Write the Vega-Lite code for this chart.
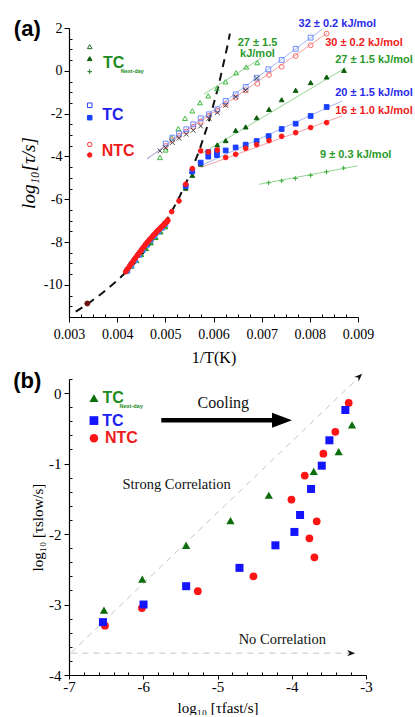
{
"$schema": "https://vega.github.io/schema/vega-lite/v6.json",
"padding": {"left": 13, "top": 17, "right": 0, "bottom": 0},
"bounds": "flush",
"spacing": 62,
"config": {
  "view": {"stroke": null},
  "axis": {"grid": false, "domainColor": "#000000", "domainWidth": 1.2, "tickColor": "#000000", "tickWidth": 1, "labelFont": "Liberation Serif", "labelColor": "#000000", "labelFontSize": 14, "titleFont": "Liberation Serif", "titleColor": "#000000", "titleFontWeight": "normal", "labelOverlap": false, "labelFlush": false}
},
"resolve": {"scale": {"shape": "independent", "size": "independent", "fill": "independent", "stroke": "independent", "color": "independent"}},
"datasets": {
  "a_fits": [
    {"x":0.0058,"y":-1.09,"g":"ot"},{"x":0.00701,"y":0.62,"g":"ot"},
    {"x":0.00462,"y":-4.10,"g":"oc"},{"x":0.00836,"y":1.76,"g":"oc"},
    {"x":0.00462,"y":-4.13,"g":"os"},{"x":0.00826,"y":1.95,"g":"os"},
    {"x":0.00577,"y":-3.85,"g":"ft"},{"x":0.00875,"y":0.15,"g":"ft"},
    {"x":0.00573,"y":-4.44,"g":"fs"},{"x":0.00867,"y":-1.41,"g":"fs"},
    {"x":0.00573,"y":-4.52,"g":"fc"},{"x":0.00867,"y":-2.11,"g":"fc"},
    {"x":0.00695,"y":-5.30,"g":"pl"},{"x":0.00899,"y":-4.44,"g":"pl"}
  ],
  "a_vft": [
    {"x":0.00314,"y":-11.25},{"x":0.0034,"y":-10.87},{"x":0.0037,"y":-10.37},{"x":0.004,"y":-9.8},{"x":0.0043,"y":-9.14},{"x":0.0046,"y":-8.36},{"x":0.0049,"y":-7.43},{"x":0.0051,"y":-6.7},{"x":0.0053,"y":-5.86},{"x":0.0055,"y":-4.89},{"x":0.0057,"y":-3.75},{"x":0.0059,"y":-2.4},{"x":0.0061,"y":-0.75},{"x":0.0063,"y":1.27},{"x":0.00634,"y":1.74}
  ],
  "a_pts": [
    {"x":0.0043,"y":-9.12,"s":"gb"},{"x":0.0044,"y":-8.86,"s":"gb"},{"x":0.0045,"y":-8.58,"s":"gb"},{"x":0.0046,"y":-8.3,"s":"gb"},{"x":0.0047,"y":-8.03,"s":"gb"},{"x":0.0048,"y":-7.78,"s":"gb"},{"x":0.0049,"y":-7.52,"s":"gb"},{"x":0.005,"y":-7.28,"s":"gb"},
    {"x":0.00421,"y":-9.34,"s":"tb"},{"x":0.00429,"y":-9.08,"s":"tb"},{"x":0.00437,"y":-8.84,"s":"tb"},{"x":0.00445,"y":-8.6,"s":"tb"},{"x":0.00453,"y":-8.36,"s":"tb"},{"x":0.00461,"y":-8.13,"s":"tb"},{"x":0.00469,"y":-7.91,"s":"tb"},{"x":0.00477,"y":-7.71,"s":"tb"},{"x":0.00485,"y":-7.51,"s":"tb"},{"x":0.00493,"y":-7.33,"s":"tb"},{"x":0.005,"y":-7.15,"s":"tb"},
    {"x":0.00418,"y":-9.38,"s":"nb"},{"x":0.00422,"y":-9.25,"s":"nb"},{"x":0.00426,"y":-9.12,"s":"nb"},{"x":0.0043,"y":-8.99,"s":"nb"},{"x":0.00434,"y":-8.86,"s":"nb"},{"x":0.00438,"y":-8.74,"s":"nb"},{"x":0.00442,"y":-8.62,"s":"nb"},{"x":0.00446,"y":-8.5,"s":"nb"},{"x":0.0045,"y":-8.38,"s":"nb"},{"x":0.00454,"y":-8.26,"s":"nb"},{"x":0.00458,"y":-8.14,"s":"nb"},{"x":0.00462,"y":-8.03,"s":"nb"},{"x":0.00466,"y":-7.92,"s":"nb"},{"x":0.0047,"y":-7.82,"s":"nb"},{"x":0.00474,"y":-7.72,"s":"nb"},{"x":0.00478,"y":-7.62,"s":"nb"},{"x":0.00482,"y":-7.52,"s":"nb"},{"x":0.00486,"y":-7.43,"s":"nb"},{"x":0.0049,"y":-7.34,"s":"nb"},{"x":0.00494,"y":-7.25,"s":"nb"},{"x":0.00498,"y":-7.16,"s":"nb"},{"x":0.00502,"y":-7.07,"s":"nb"},{"x":0.00505,"y":-6.98,"s":"nb"},
    {"x":0.00338,"y":-10.87,"s":"ref"},
    {"x":0.004889,"y":-4.05,"s":"ot"},{"x":0.005007,"y":-3.7,"s":"ot"},{"x":0.005132,"y":-3.12,"s":"ot"},{"x":0.005269,"y":-2.7,"s":"ot"},{"x":0.005408,"y":-2.22,"s":"ot"},{"x":0.00556,"y":-1.87,"s":"ot"},{"x":0.00572,"y":-1.49,"s":"ot"},{"x":0.00589,"y":-1.17,"s":"ot"},{"x":0.00607,"y":-0.83,"s":"ot"},{"x":0.00625,"y":-0.51,"s":"ot"},{"x":0.00647,"y":-0.09,"s":"ot"},{"x":0.00668,"y":0.18,"s":"ot"},{"x":0.00691,"y":0.38,"s":"ot"},
    {"x":0.005007,"y":-3.51,"s":"oc"},{"x":0.005145,"y":-3.24,"s":"oc"},{"x":0.005284,"y":-3.04,"s":"oc"},{"x":0.005435,"y":-2.84,"s":"oc"},{"x":0.00558,"y":-2.62,"s":"oc"},{"x":0.005734,"y":-2.37,"s":"oc"},{"x":0.005906,"y":-2.11,"s":"oc"},{"x":0.006079,"y":-1.87,"s":"oc"},{"x":0.006253,"y":-1.56,"s":"oc"},{"x":0.00646,"y":-1.25,"s":"oc"},{"x":0.006668,"y":-0.91,"s":"oc"},{"x":0.00691,"y":-0.6,"s":"oc"},{"x":0.007152,"y":-0.19,"s":"oc"},{"x":0.007415,"y":0.19,"s":"oc"},{"x":0.007706,"y":0.69,"s":"oc"},{"x":0.008017,"y":1.19,"s":"oc"},{"x":0.008349,"y":1.74,"s":"oc"},
    {"x":0.005007,"y":-3.4,"s":"os"},{"x":0.005145,"y":-3.12,"s":"os"},{"x":0.005284,"y":-2.93,"s":"os"},{"x":0.005435,"y":-2.73,"s":"os"},{"x":0.00558,"y":-2.5,"s":"os"},{"x":0.005734,"y":-2.22,"s":"os"},{"x":0.005906,"y":-2.03,"s":"os"},{"x":0.006079,"y":-1.8,"s":"os"},{"x":0.006253,"y":-1.41,"s":"os"},{"x":0.00646,"y":-1.1,"s":"os"},{"x":0.006668,"y":-0.75,"s":"os"},{"x":0.006896,"y":-0.32,"s":"os"},{"x":0.007138,"y":0.07,"s":"os"},{"x":0.007415,"y":0.51,"s":"os"},{"x":0.007706,"y":1.03,"s":"os"},{"x":0.008017,"y":1.55,"s":"os"},
    {"x":0.004889,"y":-3.74,"s":"xx"},{"x":0.005007,"y":-3.59,"s":"xx"},{"x":0.005145,"y":-3.35,"s":"xx"},{"x":0.005284,"y":-3.15,"s":"xx"},{"x":0.005435,"y":-2.96,"s":"xx"},{"x":0.00558,"y":-2.78,"s":"xx"},{"x":0.005734,"y":-2.58,"s":"xx"},{"x":0.005906,"y":-2.22,"s":"xx"},{"x":0.006079,"y":-1.95,"s":"xx"},{"x":0.006253,"y":-1.61,"s":"xx"},{"x":0.00646,"y":-1.22,"s":"xx"},{"x":0.006668,"y":-0.91,"s":"xx"},{"x":0.006896,"y":-0.35,"s":"xx"},
    {"x":0.005423,"y":-5.48,"s":"ft"},{"x":0.00556,"y":-4.88,"s":"ft"},{"x":0.005734,"y":-4.36,"s":"ft"},{"x":0.006079,"y":-3.46,"s":"ft"},{"x":0.006253,"y":-3.26,"s":"ft"},{"x":0.00646,"y":-2.78,"s":"ft"},{"x":0.006668,"y":-2.62,"s":"ft"},{"x":0.006896,"y":-2.19,"s":"ft"},{"x":0.007152,"y":-1.8,"s":"ft"},{"x":0.007415,"y":-1.35,"s":"ft"},{"x":0.007706,"y":-0.91,"s":"ft"},{"x":0.008017,"y":-0.55,"s":"ft"},{"x":0.008349,"y":-0.29,"s":"ft"},{"x":0.008709,"y":0.02,"s":"ft"},
    {"x":0.005423,"y":-5.38,"s":"fs"},{"x":0.00556,"y":-4.7,"s":"fs"},{"x":0.005734,"y":-4.29,"s":"fs"},{"x":0.005892,"y":-4.01,"s":"fs"},{"x":0.005892,"y":-3.8,"s":"fs"},{"x":0.006072,"y":-3.94,"s":"fs"},{"x":0.006072,"y":-3.75,"s":"fs"},{"x":0.006253,"y":-3.72,"s":"fs"},{"x":0.00646,"y":-3.58,"s":"fs"},{"x":0.006668,"y":-3.45,"s":"fs"},{"x":0.006896,"y":-3.28,"s":"fs"},{"x":0.007145,"y":-3.05,"s":"fs"},{"x":0.007415,"y":-2.72,"s":"fs"},{"x":0.007706,"y":-2.47,"s":"fs"},{"x":0.008017,"y":-2.11,"s":"fs"},{"x":0.008349,"y":-1.69,"s":"fs"},
    {"x":0.005041,"y":-7.04,"s":"fc"},{"x":0.005132,"y":-6.58,"s":"fc"},{"x":0.005284,"y":-6.08,"s":"fc"},{"x":0.005423,"y":-5.3,"s":"fc"},{"x":0.00556,"y":-4.57,"s":"fc"},{"x":0.005734,"y":-3.74,"s":"fc"},{"x":0.005892,"y":-3.79,"s":"fc"},{"x":0.006079,"y":-3.7,"s":"fc"},{"x":0.006253,"y":-4.05,"s":"fc"},{"x":0.00646,"y":-3.9,"s":"fc"},{"x":0.006668,"y":-3.62,"s":"fc"},{"x":0.006896,"y":-3.45,"s":"fc"},{"x":0.007152,"y":-3.26,"s":"fc"},{"x":0.007415,"y":-3.06,"s":"fc"},{"x":0.007706,"y":-2.89,"s":"fc"},{"x":0.008017,"y":-2.65,"s":"fc"},{"x":0.008349,"y":-2.42,"s":"fc"},
    {"x":0.007145,"y":-5.23,"s":"pl"},{"x":0.007415,"y":-5.14,"s":"pl"},{"x":0.007699,"y":-5.03,"s":"pl"},{"x":0.008017,"y":-4.88,"s":"pl"},{"x":0.008345,"y":-4.72,"s":"pl"},{"x":0.0087,"y":-4.54,"s":"pl"},
    {"x":0.00343,"y":1.13,"s":"Lot"},{"x":0.00343,"y":0.57,"s":"Lft"},{"x":0.00343,"y":-0.04,"s":"Lpl"},{"x":0.00343,"y":-1.61,"s":"Los"},{"x":0.00343,"y":-2.19,"s":"Lfs"},{"x":0.00343,"y":-3.44,"s":"Loc"},{"x":0.00343,"y":-3.93,"s":"Lfc"}
  ],
  "a_lbl": [
    {"x":0.008571,"y":2.2,"t":"32 ± 0.2 kJ/mol","k":"b"},
    {"x":0.009124,"y":1.28,"t":"30 ± 0.2 kJ/mol","k":"r"},
    {"x":0.009332,"y":0.49,"t":"27 ± 1.5 kJ/mol","k":"g"},
    {"x":0.009332,"y":-1.02,"t":"20 ± 1.5 kJ/mol","k":"b"},
    {"x":0.009332,"y":-1.87,"t":"16 ± 1.0 kJ/mol","k":"r"},
    {"x":0.008952,"y":-3.93,"t":"9 ± 0.3 kJ/mol","k":"g"},
    {"x":0.006913,"y":1.29,"t":"27 ± 1.5\nkJ/mol","k":"g"}
  ],
  "a_leg": [
    {"x":0.003706,"y":0.38,"t":"TC","k":"g"},
    {"x":0.003692,"y":-2.06,"t":"TC","k":"b"},
    {"x":0.00368,"y":-3.73,"t":"NTC","k":"r"}
  ],
  "a_sub": [{"x":0.004073,"y":-0.02,"t":"Next-day"}],
  "a_tag": [{"x":0.002134,"y":1.95,"t":"(a)"}],
  "b_rules": [
    {"x":-6.969,"y":-3.68,"x2":-3.12,"y2":0.2},
    {"x":-6.969,"y":-3.69,"x2":-3.23,"y2":-3.69}
  ],
  "b_heads": [
    {"x":-3.09,"y":0.236,"k":"d"},
    {"x":-3.2,"y":-3.69,"k":"h"}
  ],
  "b_arrow": [
    {"x":-5.757,"x2":-4.239,"y":-0.387,"p":"shaft"},
    {"x":-4.131,"y":-0.387,"p":"head"}
  ],
  "b_pts": [
    {"x":-6.516,"y":-3.3,"s":"NTC"},{"x":-6.018,"y":-3.05,"s":"NTC"},{"x":-5.265,"y":-2.81,"s":"NTC"},{"x":-4.516,"y":-2.6,"s":"NTC"},{"x":-4.004,"y":-1.51,"s":"NTC"},{"x":-3.825,"y":-1.17,"s":"NTC"},{"x":-3.762,"y":-2.06,"s":"NTC"},{"x":-3.664,"y":-1.82,"s":"NTC"},{"x":-3.695,"y":-2.33,"s":"NTC"},{"x":-3.574,"y":-0.86,"s":"NTC"},{"x":-3.413,"y":-0.55,"s":"NTC"},{"x":-3.233,"y":-0.14,"s":"NTC"},
    {"x":-6.543,"y":-3.25,"s":"TC"},{"x":-5.996,"y":-3.0,"s":"TC"},{"x":-5.422,"y":-2.74,"s":"TC"},{"x":-4.704,"y":-2.48,"s":"TC"},{"x":-4.22,"y":-2.16,"s":"TC"},{"x":-3.964,"y":-1.97,"s":"TC"},{"x":-3.888,"y":-1.73,"s":"TC"},{"x":-3.74,"y":-1.36,"s":"TC"},{"x":-3.596,"y":-1.03,"s":"TC"},{"x":-3.493,"y":-0.67,"s":"TC"},{"x":-3.278,"y":-0.24,"s":"TC"},
    {"x":-6.529,"y":-3.08,"s":"TCnd"},{"x":-6.013,"y":-2.64,"s":"TCnd"},{"x":-5.422,"y":-2.16,"s":"TCnd"},{"x":-4.825,"y":-1.81,"s":"TCnd"},{"x":-4.309,"y":-1.45,"s":"TCnd"},{"x":-3.704,"y":-1.11,"s":"TCnd"},{"x":-3.368,"y":-0.83,"s":"TCnd"},{"x":-3.188,"y":-0.45,"s":"TCnd"},
    {"x":-6.664,"y":-0.07,"s":"LTCnd"},{"x":-6.664,"y":-0.39,"s":"LTC"},{"x":-6.664,"y":-0.64,"s":"LNTC"}
  ],
  "b_txt": [
    {"x":-4.922,"y":-0.14,"t":"Cooling"},
    {"x":-5.55,"y":-1.3,"t":"Strong Correlation"},
    {"x":-4.127,"y":-3.51,"t":"No Correlation"}
  ],
  "b_leg": [
    {"x":-6.55,"y":-0.07,"t":"TC","k":"g"},
    {"x":-6.551,"y":-0.39,"t":"TC","k":"b"},
    {"x":-6.515,"y":-0.64,"t":"NTC","k":"r"}
  ],
  "b_sub": [{"x":-6.32,"y":-0.19,"t":"Next-day"}],
  "b_tag": [{"x":-7.563,"y":0.17,"t":"(b)"}]
},
"vconcat": [
  {
    "width": 289,
    "height": 289,
    "encoding": {
      "x": {"field": "x", "type": "quantitative", "scale": {"domain": [0.003, 0.009], "nice": false, "zero": false}, "axis": null},
      "y": {"field": "y", "type": "quantitative", "scale": {"domain": [-11.5, 2], "nice": false, "zero": false}, "axis": null}
    },
    "layer": [
      {"data": {"name": "a_fits"}, "mark": {"type": "line", "strokeWidth": 1},
       "encoding": {
         "x": {"field": "x", "type": "quantitative", "scale": {"domain": [0.003, 0.009], "nice": false, "zero": false},
           "axis": {"orient": "bottom", "title": "1/T(K)", "titleFontSize": 16, "titlePadding": 8, "labelPadding": 5, "ticks": true, "tickSize": 5,
             "values": [0.003,0.004,0.005,0.006,0.007,0.008,0.009], "labelExpr": "'' + datum.value"}},
         "y": {"field": "y", "type": "quantitative", "scale": {"domain": [-11.5, 2], "nice": false, "zero": false},
           "axis": {"orient": "left", "title": "log₁₀[τ/s]", "titleFontSize": 19, "titleFontStyle": "italic", "titlePadding": 5, "labelPadding": 2, "ticks": true, "tickSize": 5,
             "values": [-10,-8,-6,-4,-2,0,2], "labelExpr": "'' + datum.value"}},
         "color": {"field": "g", "type": "nominal", "legend": null,
           "scale": {"domain": ["ot","oc","os","ft","fs","fc","pl"], "range": ["#93d693","#f2a3a3","#a3b8f2","#93d693","#a3b8f2","#f2a3a3","#93d693"]}}}},
      {"data": {"name": "a_vft"}, "mark": {"type": "line", "color": "#111111", "strokeWidth": 2, "strokeDash": [8, 6]},
       "encoding": {
         "x": {"field": "x", "type": "quantitative", "scale": {"domain": [0.003, 0.009], "nice": false, "zero": false},
           "axis": {"orient": "top", "offset": -289, "title": null, "labels": false, "domain": false, "ticks": true, "tickSize": 3,
             "values": [0.00325,0.0035,0.00375,0.00425,0.0045,0.00475,0.00525,0.0055,0.00575,0.00625,0.0065,0.00675,0.00725,0.0075,0.00775,0.00825,0.0085,0.00875]}},
         "y": {"field": "y", "type": "quantitative", "scale": {"domain": [-11.5, 2], "nice": false, "zero": false},
           "axis": {"orient": "right", "offset": -289, "title": null, "labels": false, "domain": false, "ticks": true, "tickSize": 3,
             "values": [-11.5,-11,-10.5,-9.5,-9,-8.5,-7.5,-7,-6.5,-5.5,-5,-4.5,-3.5,-3,-2.5,-1.5,-1,-0.5,0.5,1,1.5]}}}},
      {"data": {"name": "a_pts"}, "mark": {"type": "point", "strokeWidth": 1, "opacity": 1},
       "encoding": {
         "shape": {"field": "s", "type": "nominal", "legend": null, "scale": {
           "domain": ["gb","tb","nb","ref","ot","oc","os","xx","ft","fs","fc","pl","Lot","Lft","Lpl","Los","Lfs","Loc","Lfc"],
           "range": ["triangle-up","square","circle","circle","triangle-up","circle","square","M -1 -1 L 1 1 M -1 1 L 1 -1","triangle-up","square","circle","M -1 0 L 1 0 M 0 -1 L 0 1","triangle-up","triangle-up","M -1 0 L 1 0 M 0 -1 L 0 1","square","square","circle","circle"]}},
         "fill": {"field": "s", "type": "nominal", "legend": null, "scale": {
           "domain": ["gb","tb","nb","ref","ot","oc","os","xx","ft","fs","fc","pl","Lot","Lft","Lpl","Los","Lfs","Loc","Lfc"],
           "range": ["#2a9a2a","#3a8cff","#ff1a1a","#6b0f0f","transparent","transparent","transparent","transparent","#0b5d0b","#1a40ff","#ff1a1a","transparent","transparent","#0b5d0b","transparent","transparent","#1a40ff","transparent","#ff1a1a"]}},
         "stroke": {"field": "s", "type": "nominal", "legend": null, "scale": {
           "domain": ["gb","tb","nb","ref","ot","oc","os","xx","ft","fs","fc","pl","Lot","Lft","Lpl","Los","Lfs","Loc","Lfc"],
           "range": ["#2a9a2a","#3a8cff","#ff1a1a","#6b0f0f","#3cb83c","#ff6b6b","#6f8cff","#444444","#0b5d0b","#1a40ff","#ff1a1a","#3cab3c","#1f6e1f","#0b5d0b","#1f7a1f","#2a40ff","#1a40ff","#ff2a2a","#ff1a1a"]}},
         "size": {"field": "s", "type": "nominal", "legend": null, "scale": {
           "domain": ["gb","tb","nb","ref","ot","oc","os","xx","ft","fs","fc","pl","Lot","Lft","Lpl","Los","Lfs","Loc","Lfc"],
           "range": [25,20,42,25,36,25,25,25,25,16,36,36,42,20,64,45,49,36,56]}}
       }},
      {"data": {"name": "a_lbl"}, "mark": {"type": "text", "font": "Liberation Sans", "fontWeight": "bold", "fontSize": 11, "lineBreak": "\n", "lineHeight": 11, "align": "center", "baseline": "middle"},
       "encoding": {"text": {"field": "t"}, "color": {"field": "k", "type": "nominal", "legend": null, "scale": {"domain": ["b","r","g"], "range": ["#2a2ae8","#ee2020","#2a9a2a"]}}}},
      {"data": {"name": "a_leg"}, "mark": {"type": "text", "font": "Liberation Sans", "fontWeight": "bold", "fontSize": 16, "align": "left", "baseline": "middle"},
       "encoding": {"text": {"field": "t"}, "color": {"field": "k", "type": "nominal", "legend": null, "scale": {"domain": ["b","r","g"], "range": ["#2222ee","#ee1c1c","#1e8c1e"]}}}},
      {"data": {"name": "a_sub"}, "mark": {"type": "text", "font": "Liberation Sans", "fontWeight": "bold", "fontSize": 5.5, "align": "left", "baseline": "middle", "color": "#1e8c1e"},
       "encoding": {"text": {"field": "t"}}},
      {"data": {"name": "a_tag"}, "mark": {"type": "text", "font": "Liberation Sans", "fontWeight": "bold", "fontSize": 22, "align": "center", "baseline": "middle", "color": "#000000"},
       "encoding": {"text": {"field": "t"}}}
    ],
    "resolve": {"scale": {"color": "independent"}, "axis": {"x": "independent", "y": "independent"}}
  },
  {
    "width": 297,
    "height": 296,
    "encoding": {
      "x": {"field": "x", "type": "quantitative", "scale": {"domain": [-7, -3], "nice": false, "zero": false}, "axis": null},
      "y": {"field": "y", "type": "quantitative", "scale": {"domain": [-4, 0.2], "nice": false, "zero": false}, "axis": null}
    },
    "layer": [
      {"data": {"name": "b_rules"}, "mark": {"type": "rule", "color": "#c4c4c4", "strokeDash": [6, 5], "strokeWidth": 1},
       "encoding": {
         "x": {"field": "x", "type": "quantitative", "scale": {"domain": [-7, -3], "nice": false, "zero": false},
           "axis": {"orient": "bottom", "title": "log₁₀ [τfast/s]", "titleFontSize": 15, "titlePadding": 6, "labelPadding": 0, "labelFontSize": 15, "ticks": true, "tickSize": 4,
             "values": [-7,-6,-5,-4,-3], "labelExpr": "'' + datum.value"}},
         "y": {"field": "y", "type": "quantitative", "scale": {"domain": [-4, 0.2], "nice": false, "zero": false},
           "axis": {"orient": "left", "title": "log₁₀ [τslow/s]", "titleFontSize": 15, "titlePadding": 3, "labelPadding": 3, "labelFontSize": 15, "ticks": true, "tickSize": 5,
             "values": [-4,-3,-2,-1,0], "labelExpr": "'' + datum.value"}},
         "x2": {"field": "x2"}, "y2": {"field": "y2"}}},
      {"data": {"name": "b_heads"}, "transform": [{"filter": "datum.k == 'd'"}],
       "mark": {"type": "point", "shape": "M 1 0 L -1 -0.8 L -0.4 0 L -1 0.8 Z", "filled": true, "color": "#111111", "opacity": 1, "size": 64, "angle": 316},
       "encoding": {
         "x": {"field": "x", "type": "quantitative", "scale": {"domain": [-7, -3], "nice": false, "zero": false},
           "axis": {"orient": "top", "offset": -296, "title": null, "labels": false, "domain": false, "ticks": true, "tickSize": 3,
             "values": [-6.8,-6.6,-6.4,-6.2,-5.8,-5.6,-5.4,-5.2,-4.8,-4.6,-4.4,-4.2,-3.8,-3.6,-3.4,-3.2]}},
         "y": {"field": "y", "type": "quantitative", "scale": {"domain": [-4, 0.2], "nice": false, "zero": false},
           "axis": {"orient": "right", "offset": -297, "title": null, "labels": false, "domain": false, "ticks": true, "tickSize": 3,
             "values": [-3.8,-3.6,-3.4,-3.2,-2.8,-2.6,-2.4,-2.2,-1.8,-1.6,-1.4,-1.2,-0.8,-0.6,-0.4,-0.2,0.2]}}}},
      {"data": {"name": "b_heads"}, "transform": [{"filter": "datum.k == 'h'"}],
       "mark": {"type": "point", "shape": "M 1 0 L -1 -0.8 L -0.4 0 L -1 0.8 Z", "filled": true, "color": "#111111", "opacity": 1, "size": 64, "angle": 0}, "encoding": {}},
      {"data": {"name": "b_arrow"}, "transform": [{"filter": "datum.p == 'shaft'"}],
       "mark": {"type": "rule", "color": "#000000", "strokeWidth": 4.5}, "encoding": {"x2": {"field": "x2"}}},
      {"data": {"name": "b_arrow"}, "transform": [{"filter": "datum.p == 'head'"}],
       "mark": {"type": "point", "shape": "M -1 -0.75 L 1 0 L -1 0.75 Z", "filled": true, "color": "#000000", "opacity": 1, "size": 400}, "encoding": {}},
      {"data": {"name": "b_pts"}, "mark": {"type": "point", "filled": true, "opacity": 1},
       "encoding": {
         "shape": {"field": "s", "type": "nominal", "legend": null, "scale": {"domain": ["NTC","TC","TCnd","LNTC","LTC","LTCnd"], "range": ["circle","square","triangle-up","circle","square","triangle-up"]}},
         "color": {"field": "s", "type": "nominal", "legend": null, "scale": {"domain": ["NTC","TC","TCnd","LNTC","LTC","LTCnd"], "range": ["#ff1414","#1414ff","#0b6e0b","#ff1414","#1414ff","#0b6e0b"]}},
         "size": {"field": "s", "type": "nominal", "legend": null, "scale": {"domain": ["NTC","TC","TCnd","LNTC","LTC","LTCnd"], "range": [60,81,87,130,85,130]}}
       }},
      {"data": {"name": "b_txt"}, "transform": [{"filter": "datum.t == 'Cooling'"}],
       "mark": {"type": "text", "font": "Liberation Serif", "fontSize": 16, "align": "center", "baseline": "middle", "color": "#111111"},
       "encoding": {"text": {"field": "t"}}},
      {"data": {"name": "b_txt"}, "transform": [{"filter": "datum.t != 'Cooling'"}],
       "mark": {"type": "text", "font": "Liberation Serif", "fontSize": 14.5, "align": "center", "baseline": "middle", "color": "#111111"},
       "encoding": {"text": {"field": "t"}}},
      {"data": {"name": "b_leg"}, "mark": {"type": "text", "font": "Liberation Sans", "fontWeight": "bold", "fontSize": 16, "align": "left", "baseline": "middle"},
       "encoding": {"text": {"field": "t"}, "color": {"field": "k", "type": "nominal", "legend": null, "scale": {"domain": ["b","r","g"], "range": ["#2222ee","#ee1c1c","#1e8c1e"]}}}},
      {"data": {"name": "b_sub"}, "mark": {"type": "text", "font": "Liberation Sans", "fontWeight": "bold", "fontSize": 5.5, "align": "left", "baseline": "middle", "color": "#1e8c1e"},
       "encoding": {"text": {"field": "t"}}},
      {"data": {"name": "b_tag"}, "mark": {"type": "text", "font": "Liberation Sans", "fontWeight": "bold", "fontSize": 22, "align": "center", "baseline": "middle", "color": "#000000"},
       "encoding": {"text": {"field": "t"}}}
    ],
    "resolve": {"scale": {"color": "independent"}, "axis": {"x": "independent", "y": "independent"}}
  }
]
}
